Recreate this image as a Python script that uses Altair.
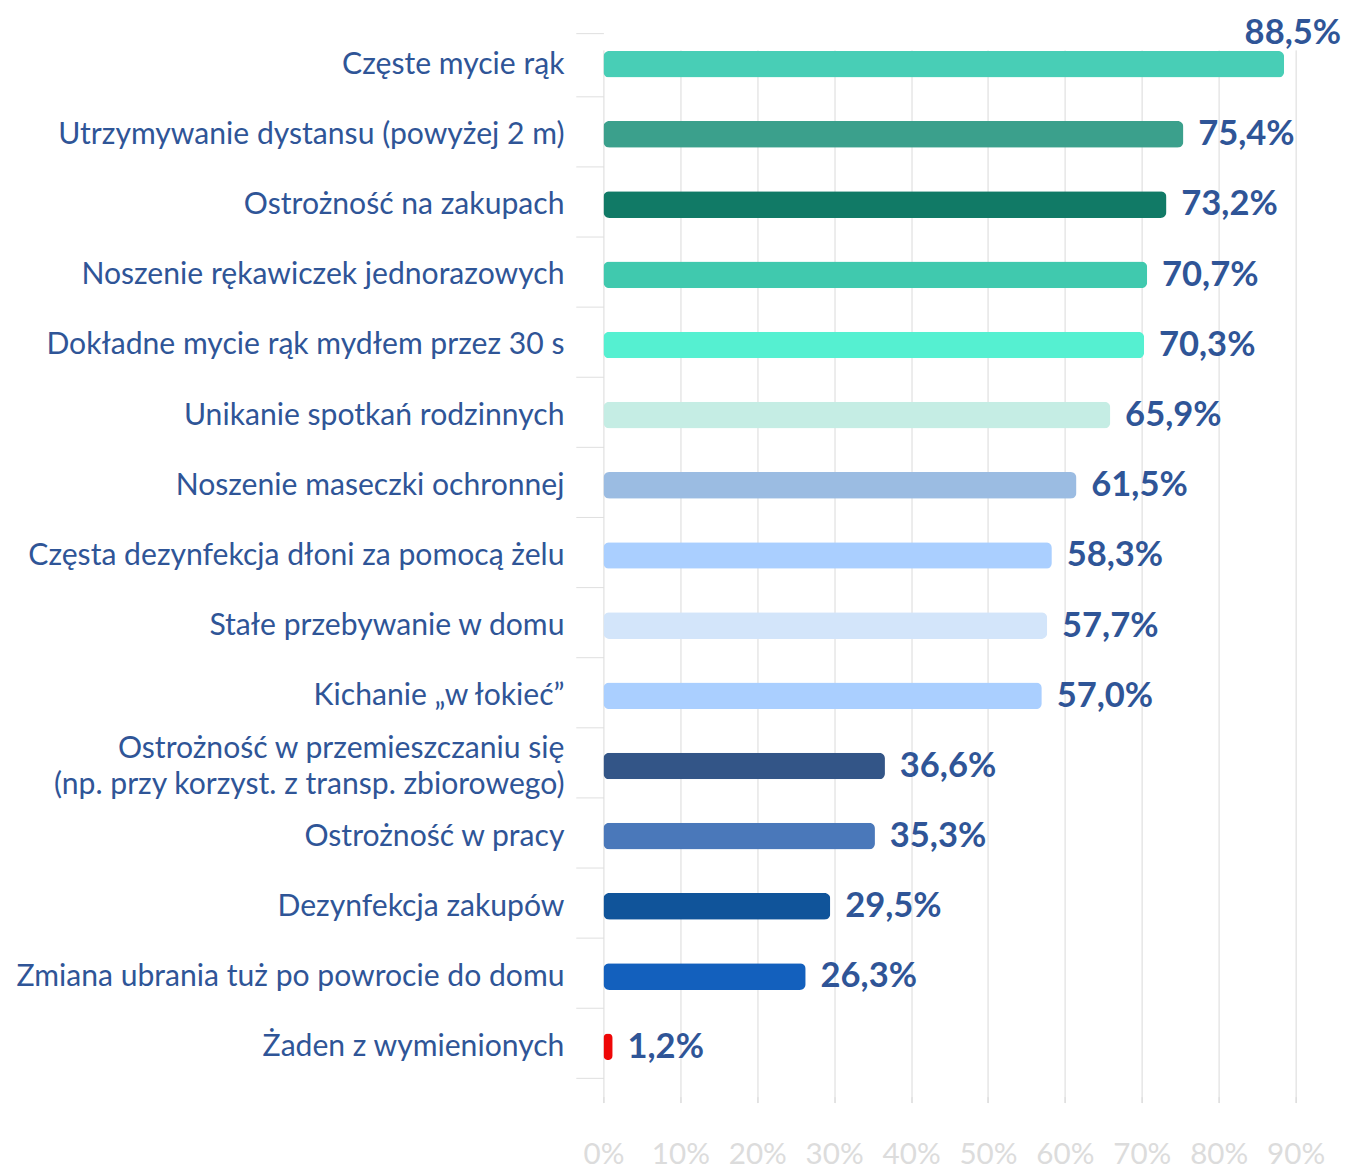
import altair as alt
import pandas as pd

categories = [
    "Częste mycie rąk",
    "Utrzymywanie dystansu (powyżej 2 m)",
    "Ostrożność na zakupach",
    "Noszenie rękawiczek jednorazowych",
    "Dokładne mycie rąk mydłem przez 30 s",
    "Unikanie spotkań rodzinnych",
    "Noszenie maseczki ochronnej",
    "Częsta dezynfekcja dłoni za pomocą żelu",
    "Stałe przebywanie w domu",
    "Kichanie „w łokieć”",
    "Ostrożność w przemieszczaniu się\n(np. przy korzyst. z transp. zbiorowego)",
    "Ostrożność w pracy",
    "Dezynfekcja zakupów",
    "Zmiana ubrania tuż po powrocie do domu",
    "Żaden z wymienionych",
]
values = [88.5, 75.4, 73.2, 70.7, 70.3, 65.9, 61.5, 58.3, 57.7, 57.0, 36.6, 35.3, 29.5, 26.3, 1.2]
colors = [
    "#48CEB6", "#3BA08C", "#117A66", "#40C9AE", "#55F0D1",
    "#C5EDE4", "#9BBCE2", "#AACFFF", "#D3E5FA", "#AACFFF",
    "#335587", "#4A78BA", "#10549A", "#1360BD", "#EE0707",
]
tick_values = [0, 10, 20, 30, 40, 50, 60, 70, 80, 90]

TEXT = "#2F5597"

df = pd.DataFrame({
    "cat": categories,
    "value": values,
    "label": [f"{v:.1f}".replace(".", ",") + "%" for v in values],
    "top": [i == 0 for i in range(len(values))],
})

x = alt.X(
    "value:Q",
    scale=alt.Scale(domain=[0, 90], nice=False),
    axis=alt.Axis(
        values=tick_values,
        labelExpr="datum.value + '%'",
        labelOverlap=False,
        labelFlush=False,
        grid=True,
        gridColor="#d9d9d9",
        domain=False,
        tickColor="#d9d9d9",
        tickSize=6,
        labelFont="Lato",
        labelFontSize=30,
        labelColor="#dcdcdc",
        labelPadding=38,
        title=None,
    ),
)
y = alt.Y(
    "cat:N",
    sort=categories,
    scale=alt.Scale(range=[-6, 1060]),
    axis=alt.Axis(
        grid=False,
        domain=False,
        ticks=True,
        tickBand="extent",
        tickSize=28,
        tickColor="#dedede",
        labelPadding=12,
        labelFont="Lato",
        labelFontSize=30.5,
        labelColor=TEXT,
        labelLimit=900,
        labelLineHeight=37,
        labelExpr="split(datum.label, '\\n')",
        labelOffset={"condition": {"test": "indexof(datum.label, '\\n') >= 0", "value": -18}, "value": 0},
        title=None,
    ),
)

base = alt.Chart(df)

bars = base.mark_bar(size=27, cornerRadius=6).encode(
    x=x,
    y=y,
    color=alt.Color("cat:N", scale=alt.Scale(domain=categories, range=colors), legend=None),
)

labels = base.transform_filter("!datum.top").mark_text(
    align="left", baseline="middle", dx=15, font="Lato", fontSize=35,
    fontWeight="bold", color=TEXT,
).encode(x="value:Q", y=alt.Y("cat:N", sort=categories), text="label:N")

top_label = base.transform_filter("datum.top").mark_text(
    align="left", baseline="middle", dx=-40, dy=-32, font="Lato", fontSize=35,
    fontWeight="bold", color=TEXT,
).encode(x="value:Q", y=alt.Y("cat:N", sort=categories), text="label:N")

chart = (
    alt.layer(bars, labels, top_label)
    .properties(width=701, height=1075, padding={"left": 8, "top": 0, "right": 5, "bottom": 5})
    .configure_view(stroke=None)
)

chart.save("out.html", embed_options={"renderer": "svg", "actions": False})
